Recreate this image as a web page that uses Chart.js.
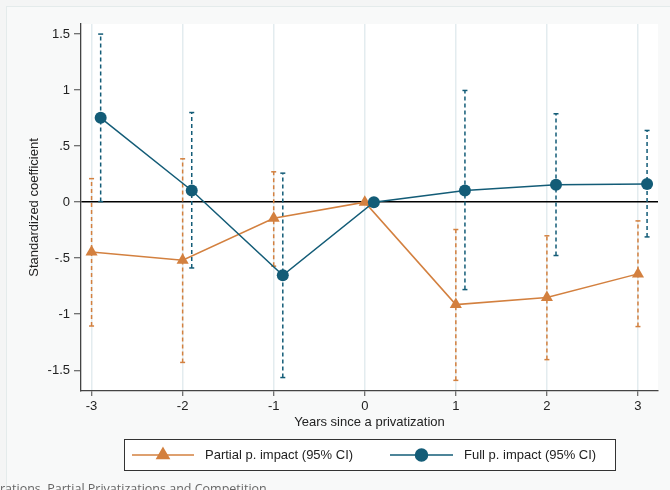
<!DOCTYPE html>
<html>
<head>
<meta charset="utf-8">
<script src="https://cdn.jsdelivr.net/npm/chart.js@4.4.0/dist/chart.umd.min.js"></script>
<style>
  html, body { margin: 0; padding: 0; width: 670px; height: 490px; overflow: hidden; background: #f4f5f5; }
  #panel { position: absolute; left: 6px; top: 6px; width: 700px; height: 520px; background: #f8f9f9; border-left: 1px solid #e4ebeb; border-top: 1px solid #e4ebeb; }
  #myChart { position: absolute; left: 0; top: 0; }
  #caption { position: absolute; left: 0; top: 481px; font-family: "Open Sans"; font-size: 12.5px; line-height: 16px; color: #666; white-space: nowrap; }
</style>
</head>
<body>
<div id="panel"></div>
<canvas id="myChart" width="670" height="490"></canvas>
<div id="caption">rations, Partial Privatizations and Competition</div>
<script>
// datos
const years = [-3, -2, -1, 0, 1, 2, 3];
const partialCoef = [-0.444, -0.518, -0.143, 0, -0.914, -0.851, -0.640];
const partialLow = [-1.105, -1.430, -0.571, null, -1.590, -1.405, -1.110];
const partialHigh = [0.210, 0.387, 0.271, null, -0.244, -0.300, -0.167];
const fullCoef = [0.753, 0.104, -0.652, 0, 0.104, 0.155, 0.163];
const fullLow = [0.005, -0.587, -1.565, null, -0.780, -0.476, -0.310];
const fullHigh = [1.500, 0.800, 0.259, null, 0.997, 0.789, 0.640];
const fullShift = 0.1; // la serie "full" va corrida un poco a la derecha
const xTicks = [-3, -2, -1, 0, 1, 2, 3];
const yTicks = [-1.5, -1, -0.5, 0, 0.5, 1, 1.5];

const labelPartial = "Partial p. impact (95% CI)";
const labelFull = "Full p. impact (95% CI)";
const colorPartial = "#d3803f";
const colorFull = "#135c77";
const fuente = "'Liberation Sans', Arial, sans-serif";

function puntos(valores, shift) {
  return years.map((x, i) => ({ x: x + shift, y: valores[i] }));
}

// un dataset por cada intervalo de confianza
function intervalos(lows, highs, shift, color) {
  let sets = [];
  years.forEach((x, i) => {
    if (lows[i] === null) return;
    sets.push({
      label: "ci",
      data: [{ x: x + shift, y: lows[i] }, { x: x + shift, y: highs[i] }],
      borderColor: color,
      borderWidth: 1.5,
      borderDash: [4, 3],
      pointStyle: "line",
      pointRadius: 2.5,
      pointBorderWidth: 1.5,
      pointBorderColor: color,
      order: 5,
    });
  });
  return sets;
}

const fondo = {
  id: "fondo",
  beforeDraw(chart) {
    const { ctx, chartArea } = chart;
    ctx.save();
    ctx.fillStyle = "#ffffff";
    ctx.fillRect(chartArea.left, chartArea.top, chartArea.right - chartArea.left, chartArea.bottom - chartArea.top);
    ctx.restore();
  },
};

const leyenda = {
  id: "leyenda",
  afterDraw(chart) {
    const ctx = chart.ctx;
    ctx.save();
    ctx.fillStyle = "#ffffff";
    ctx.fillRect(124.5, 439.5, 491, 31);
    ctx.strokeStyle = "#333333";
    ctx.lineWidth = 1;
    ctx.strokeRect(124.5, 439.5, 491, 31);
    const items = [
      { x0: 132, x1: 194, text: labelPartial, tx: 205, color: colorPartial, style: "triangle", r: 7 },
      { x0: 390, x1: 453, text: labelFull, tx: 464, color: colorFull, style: "circle", r: 6 },
    ];
    items.forEach((it) => {
      ctx.strokeStyle = it.color;
      ctx.lineWidth = 1.5;
      ctx.beginPath();
      ctx.moveTo(it.x0, 455);
      ctx.lineTo(it.x1, 455);
      ctx.stroke();
      ctx.fillStyle = it.color;
      Chart.helpers.drawPoint(ctx, { pointStyle: it.style, radius: it.r, rotation: 0, borderWidth: 1 }, (it.x0 + it.x1) / 2, 455);
      ctx.fillStyle = "#222222";
      ctx.font = "13px " + fuente;
      ctx.textBaseline = "middle";
      ctx.fillText(it.text, it.tx, 455);
    });
    ctx.restore();
  },
};

const config = {
  type: "line",
  data: {
    datasets: [
      {
        label: labelFull,
        data: puntos(fullCoef, fullShift),
        borderColor: colorFull,
        backgroundColor: colorFull,
        borderWidth: 1.5,
        pointStyle: "circle",
        pointRadius: 6,
        pointBorderWidth: 0,
        order: 1,
      },
      {
        label: labelPartial,
        data: puntos(partialCoef, 0),
        borderColor: colorPartial,
        backgroundColor: colorPartial,
        borderWidth: 1.5,
        pointStyle: "triangle",
        pointRadius: 7,
        pointBorderWidth: 0,
        order: 2,
      },
      ...intervalos(fullLow, fullHigh, fullShift, colorFull),
      ...intervalos(partialLow, partialHigh, 0, colorPartial),
    ],
  },
  options: {
    responsive: false,
    animation: false,
    devicePixelRatio: 1,
    layout: { padding: { left: 0, top: 24, right: 12, bottom: 49 } },
    plugins: { legend: { display: false }, tooltip: { enabled: false } },
    scales: {
      x: {
        type: "linear",
        min: -3.116,
        max: 3.22,
        afterBuildTicks: (scale) => { scale.ticks = xTicks.map((v) => ({ value: v })); },
        afterFit: (scale) => { scale.height = 50; },
        ticks: { color: "#222", font: { family: fuente, size: 13 }, padding: 3, maxRotation: 0 },
        grid: { color: "#e3ecef", lineWidth: 1.5, tickColor: "#444", tickLength: 5, tickWidth: 1 },
        border: { display: true, color: "#444", width: 1.3 },
        title: { display: true, text: "Years since a privatization", color: "#222", font: { family: fuente, size: 13 }, padding: { top: 0, bottom: 10.6 } },
      },
      y: {
        type: "linear",
        min: -1.685,
        max: 1.59,
        afterBuildTicks: (scale) => { scale.ticks = yTicks.map((v) => ({ value: v })); },
        afterFit: (scale) => { scale.width = 81; },
        ticks: {
          color: "#222",
          font: { family: fuente, size: 13 },
          padding: 4,
          callback: (v) => String(v).replace("0.", "."),
        },
        grid: {
          color: (c) => (c.tick && c.tick.value === 0 ? "#000000" : "rgba(0,0,0,0)"),
          lineWidth: 1.5,
          tickColor: "#444",
          tickLength: 7,
          tickWidth: 1,
        },
        border: { display: true, color: "#444", width: 1.3 },
        title: { display: true, text: "Standardized coefficient", color: "#222", font: { family: fuente, size: 13 }, padding: { top: 26.2, bottom: 0 } },
      },
    },
  },
  plugins: [fondo, leyenda],
};

new Chart(document.getElementById("myChart"), config);
</script>
</body>
</html>
